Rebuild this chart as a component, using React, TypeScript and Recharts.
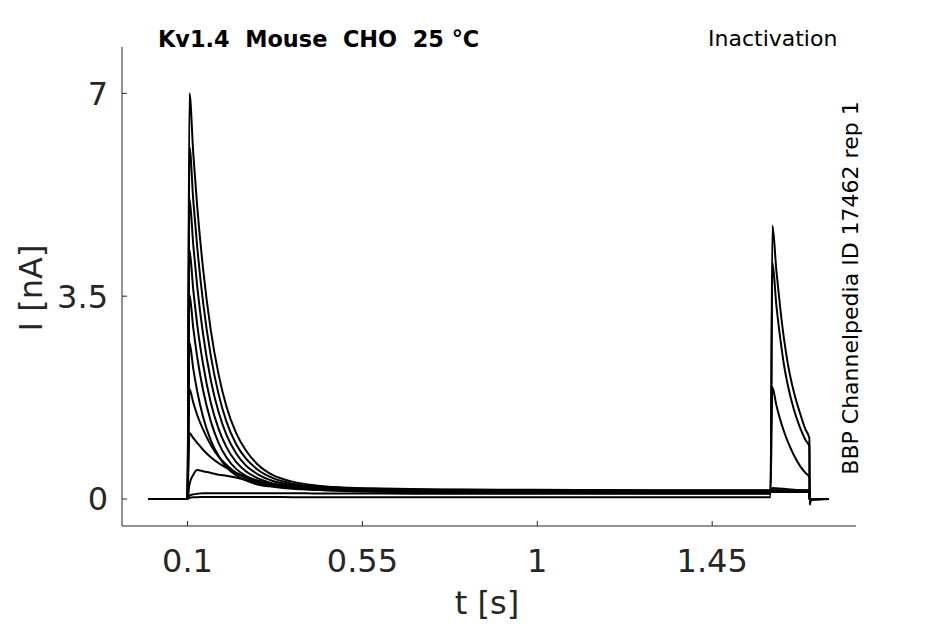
import React from 'react';
import { LineChart, Line, XAxis, YAxis } from 'recharts';

// sample times (s), shared by every sweep
const time = [
  0, 0.1, 0.105, 0.115, 0.125, 0.14, 0.16, 0.18, 0.2, 0.225, 0.25, 0.28, 0.32, 0.37, 0.43,
  0.5, 0.6, 0.75, 0.9, 1.1, 1.3, 1.5, 1.6, 1.605, 1.615, 1.625, 1.635, 1.645, 1.66, 1.675,
  1.69, 1.7, 1.701, 1.704, 1.75,
];

// current (nA) of each sweep
const sweep1 = [0, 0, 7.0, 5.95, 5.05, 3.98, 2.91, 2.15, 1.6, 1.14, 0.84, 0.6, 0.41, 0.3, 0.235, 0.2, 0.18, 0.165, 0.16, 0.155, 0.15, 0.15, 0.15, 0.15, 0.15, 0.15, 0.15, 0.15, 0.15, 0.15, 0.15, 0.15, -0.02, 0, 0];
const sweep2 = [0, 0, 6.08, 5.14, 4.35, 3.4, 2.47, 1.81, 1.34, 0.95, 0.7, 0.51, 0.36, 0.265, 0.22, 0.19, 0.17, 0.16, 0.155, 0.15, 0.145, 0.145, 0.145, 0.145, 0.145, 0.145, 0.145, 0.145, 0.145, 0.145, 0.145, 0.145, -0.02, 0, 0];
const sweep3 = [0, 0, 5.19, 4.37, 3.67, 2.85, 2.05, 1.5, 1.11, 0.79, 0.58, 0.43, 0.31, 0.24, 0.2, 0.18, 0.165, 0.155, 0.15, 0.145, 0.14, 0.14, 0.14, 0.14, 0.14, 0.14, 0.14, 0.14, 0.14, 0.14, 0.14, 0.14, -0.02, 0, 0];
const sweep4 = [0, 0, 4.3, 3.6, 3.01, 2.33, 1.66, 1.21, 0.9, 0.64, 0.48, 0.36, 0.27, 0.22, 0.185, 0.17, 0.16, 0.15, 0.145, 0.14, 0.135, 0.135, 0.135, 0.135, 0.135, 0.135, 0.135, 0.135, 0.135, 0.135, 0.135, 0.135, -0.02, 0, 0];
const sweep5 = [0, 0, 3.53, 2.94, 2.45, 1.88, 1.34, 0.97, 0.72, 0.52, 0.4, 0.31, 0.24, 0.2, 0.17, 0.16, 0.15, 0.145, 0.14, 0.135, 0.13, 0.13, 0.13, 0.13, 0.13, 0.13, 0.13, 0.13, 0.13, 0.13, 0.13, 0.13, -0.02, 0, 0];
const sweep6 = [0, 0, 2.7, 2.24, 1.86, 1.42, 1.01, 0.74, 0.55, 0.41, 0.32, 0.25, 0.21, 0.175, 0.16, 0.15, 0.145, 0.14, 0.135, 0.13, 0.125, 0.125, 0.125, 0.125, 0.125, 0.125, 0.125, 0.125, 0.125, 0.125, 0.125, 0.125, -0.02, 0, 0];
const sweep7 = [0, 0, 1.9, 1.66, 1.45, 1.2, 0.93, 0.73, 0.59, 0.45, 0.36, 0.29, 0.23, 0.19, 0.16, 0.145, 0.135, 0.13, 0.125, 0.12, 0.12, 0.12, 0.12, 0.12, 0.12, 0.12, 0.12, 0.12, 0.12, 0.12, 0.12, 0.12, -0.02, 0, 0];
const sweep8 = [0, 0, 1.14, 1.05, 0.97, 0.85, 0.72, 0.62, 0.54, 0.45, 0.38, 0.32, 0.26, 0.21, 0.17, 0.15, 0.13, 0.12, 0.115, 0.11, 0.11, 0.105, 0.105, 0.19, 0.185, 0.18, 0.175, 0.17, 0.16, 0.15, 0.14, 0.13, -0.02, 0, 0];
const sweep9 = [0, 0, 0.25, 0.42, 0.5, 0.48, 0.45, 0.42, 0.4, 0.37, 0.33, 0.28, 0.23, 0.19, 0.16, 0.14, 0.125, 0.115, 0.11, 0.105, 0.1, 0.1, 0.1, 1.93, 1.62, 1.37, 1.16, 0.98, 0.76, 0.58, 0.45, 0.38, -0.05, 0, 0];
const sweep10 = [0, 0, 0.06, 0.08, 0.09, 0.1, 0.1, 0.1, 0.1, 0.1, 0.1, 0.1, 0.1, 0.1, 0.095, 0.095, 0.095, 0.09, 0.09, 0.09, 0.09, 0.09, 0.09, 4.08, 3.35, 2.78, 2.3, 1.95, 1.55, 1.25, 1.02, 0.9, -0.08, -0.01, 0];
const sweep11 = [0, 0, 0.02, 0.03, 0.03, 0.035, 0.035, 0.035, 0.035, 0.035, 0.035, 0.035, 0.035, 0.03, 0.03, 0.03, 0.03, 0.03, 0.03, 0.03, 0.03, 0.03, 0.03, 4.72, 3.95, 3.3, 2.75, 2.32, 1.85, 1.5, 1.2, 1.05, -0.1, -0.02, 0];

const sweeps = [sweep1, sweep2, sweep3, sweep4, sweep5, sweep6, sweep7, sweep8, sweep9, sweep10, sweep11];

const xTicks = [0.1, 0.55, 1, 1.45];
const yTicks = [0, 3.5, 7];

const rows = time.map((t, i) => {
  const row: Record<string, number> = { t };
  sweeps.forEach((s, k) => {
    row[`s${k}`] = s[i];
  });
  return row;
});

const FONT = '"DejaVu Sans", sans-serif';
const INK = '#262626';

function XTick(props: any) {
  const { x, y, payload } = props;
  return (
    <g>
      <line x1={x} y1={y} x2={x} y2={y - 5} stroke={INK} />
      <text x={x} y={y + 46} textAnchor="middle" fontSize={32} fill={INK} fontFamily={FONT}>
        {payload.value}
      </text>
    </g>
  );
}

function YTick(props: any) {
  const { x, y, payload } = props;
  return (
    <g>
      <line x1={x} y1={y} x2={x + 5} y2={y} stroke={INK} />
      <text x={x - 14} y={y + 11.5} textAnchor="end" fontSize={32} fill={INK} fontFamily={FONT}>
        {payload.value}
      </text>
    </g>
  );
}

export default function App() {
  return (
    <div style={{ position: 'absolute', left: 0, top: 0, background: '#fff' }}>
      <LineChart width={945} height={624} data={rows} margin={{ top: 47, right: 89, bottom: 68, left: 62 }}>
        <XAxis
          type="number"
          dataKey="t"
          domain={[-0.0685, 1.82]}
          ticks={xTicks}
          interval={0}
          allowDataOverflow
          height={30}
          tickSize={0}
          tickMargin={0}
          tickLine={false}
          stroke={INK}
          tick={XTick}
        />
        <YAxis
          type="number"
          domain={[-0.466, 7.8]}
          ticks={yTicks}
          interval={0}
          allowDataOverflow
          width={60}
          tickSize={0}
          tickMargin={0}
          tickLine={false}
          stroke={INK}
          tick={YTick}
        />
        {sweeps.map((_, k) => (
          <Line
            key={k}
            type="monotone"
            dataKey={`s${k}`}
            stroke="#000"
            strokeWidth={2}
            dot={false}
            activeDot={false}
            isAnimationActive={false}
          />
        ))}
        <text x={158} y={47} fontSize={22.4} fontWeight="bold" fill="#000" fontFamily={FONT} style={{ whiteSpace: 'pre' }}>
          {'Kv1.4  Mouse  CHO  25 °C'}
        </text>
        <text x={708} y={46} fontSize={22} fill="#000" fontFamily={FONT}>
          Inactivation
        </text>
        <text
          x={858}
          y={288}
          transform="rotate(-90, 858, 288)"
          textAnchor="middle"
          fontSize={22}
          fill="#000"
          fontFamily={FONT}
        >
          BBP Channelpedia ID 17462 rep 1
        </text>
        <text x={487} y={614} textAnchor="middle" fontSize={32} fill={INK} fontFamily={FONT}>
          t [s]
        </text>
        <text
          x={42}
          y={288}
          transform="rotate(-90, 42, 288)"
          textAnchor="middle"
          fontSize={32}
          fill={INK}
          fontFamily={FONT}
        >
          I [nA]
        </text>
      </LineChart>
    </div>
  );
}
